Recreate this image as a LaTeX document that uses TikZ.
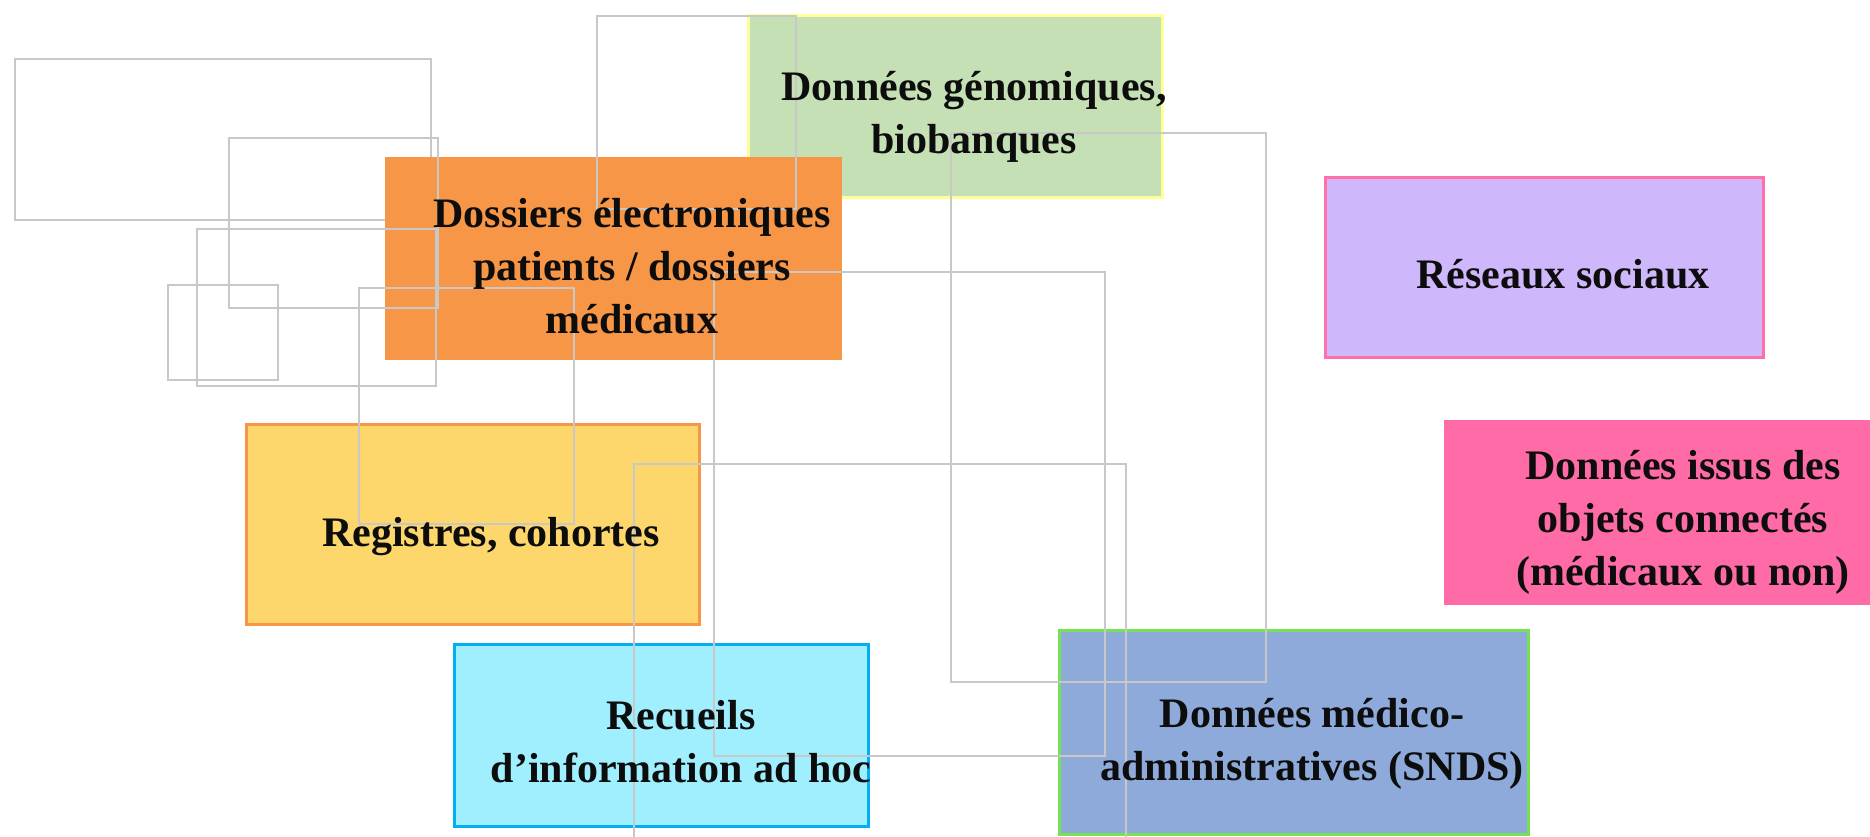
\documentclass[tikz,border=0pt]{standalone}
\usepackage{fontspec}
\setmainfont{Liberation Serif}
\definecolor{cgreen}{HTML}{C5E0B4}
\definecolor{cyellowb}{HTML}{FFFF99}
\definecolor{corange}{HTML}{F79646}
\definecolor{cpurple}{HTML}{CFB7FC}
\definecolor{cpinkb}{HTML}{FF6FA8}
\definecolor{cpink}{HTML}{FF6BA6}
\definecolor{cyellow}{HTML}{FDD76B}
\definecolor{ccyan}{HTML}{A0EFFE}
\definecolor{ccyanb}{HTML}{00B0F0}
\definecolor{cblue}{HTML}{8EAADB}
\definecolor{cblueb}{HTML}{76E155}
\definecolor{cgray}{HTML}{C8C8C8}
\begin{document}
\begin{tikzpicture}[x=1pt,y=-1pt,
  box/.style={rectangle, inner sep=0pt, line width=3pt},
  lbl/.style={font=\fontsize{42}{53}\selectfont\bfseries, align=center, anchor=base, inner sep=0pt, text=black!95},
  frame/.style={draw=cgray, line width=1.5pt}]
\useasboundingbox (0,0) rectangle (1870,836);
\begin{scope}
\clip (0,0) rectangle (1870,836);
% background frame under the orange box
\draw[frame] (15,59) rectangle (431,220);
% boxes
\node[box, fill=cgreen, draw=cyellowb, minimum width=414pt, minimum height=182pt] (gen) at (955.5,106.5) {};
\node[box, fill=corange, minimum width=457pt, minimum height=203pt] (dos) at (613.5,258.5) {};
\node[box, fill=cpurple, draw=cpinkb, minimum width=438pt, minimum height=180pt] (res) at (1544.5,267.5) {};
\node[box, fill=cpink, minimum width=436pt, minimum height=185pt] (obj) at (1662,512.5) {};
\node[box, fill=cyellow, draw=corange, minimum width=453pt, minimum height=200pt] (reg) at (473,524.5) {};
\node[box, fill=ccyan, draw=ccyanb, minimum width=414pt, minimum height=182pt] (rec) at (661.5,735.5) {};
\node[box, fill=cblue, draw=cblueb, minimum width=469pt, minimum height=204pt] (med) at (1294,732.5) {};
% frames over the boxes
\draw[frame] (229,138) rectangle (438,308);
\draw[frame] (197,229) rectangle (436,386);
\draw[frame] (168,285) rectangle (278,380);
\draw[frame] (359,288) rectangle (574,524);
\draw[frame] (597,16) rectangle (796,209);
\draw[frame] (714,272) rectangle (1105,756);
\draw[frame] (951,133) rectangle (1266,682);
\draw[frame] (634,464) rectangle (1126,860);
% texts (base anchor = baseline of the last line)
\node[lbl] (tgen) at (974,153) {Données génomiques,\\biobanques};
\node[lbl] (tdos) at (632,333) {Dossiers électroniques\\patients / dossiers\\médicaux};
\node[lbl] (tres) at (1563,288) {Réseaux sociaux};
\node[lbl] (tobj) at (1683,585) {Données issus des\\objets connectés\\(médicaux ou non)};
\node[lbl] (treg) at (491,546) {Registres, cohortes};
\node[lbl] (trec) at (681,782) {Recueils\\d’information ad hoc};
\node[lbl] (tmed) at (1312,780) {Données médico-\\administratives (SNDS)};
\end{scope}
\end{tikzpicture}
\end{document}
